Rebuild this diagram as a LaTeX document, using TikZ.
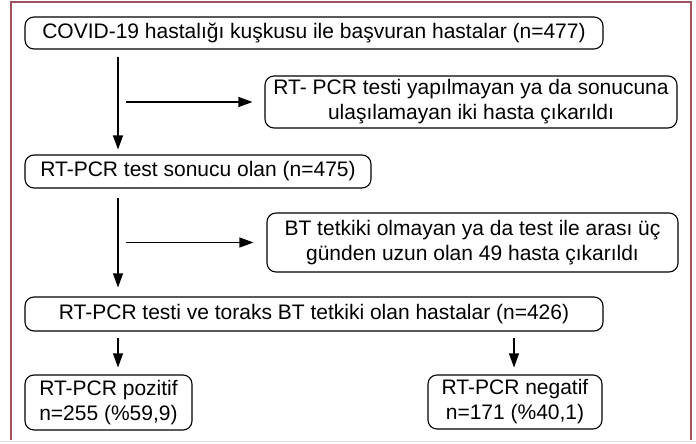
\documentclass[tikz,border=0pt]{standalone}
\usepackage{fontspec}
\setmainfont{Liberation Sans}
\usetikzlibrary{arrows.meta}
\definecolor{framered}{RGB}{160,80,90}
\tikzset{
  flowbox/.style={draw, line width=1.1pt, rounded corners=9pt, inner sep=0pt,
    font=\fontsize{21}{25}\selectfont},
  flowarrow/.style={-{Triangle[length=14pt,width=10pt]}, line width=1.1pt}
}
\begin{document}
\begin{tikzpicture}[x=1pt,y=-1pt]
        \useasboundingbox (0,0) rectangle (696,444);

        % Draw the frame
        \draw[framered, line width=1.4pt] (11,440) -- (11,2) -- (691,2) -- (691,440);
        \draw[black!12] (0,441) -- (696,441);

        % Define the boxes
        \node[flowbox, minimum width=578pt, minimum height=32pt] (suspected) at (314,33)
            {COVID-19 hastalığı kuşkusu ile başvuran hastalar (n=477)};
        \node[flowbox, align=center, minimum width=412pt, minimum height=52pt] (nopcr) at (471,102)
            {RT- PCR testi yapılmayan ya da sonucuna\\ulaşılamayan iki hasta çıkarıldı};
        \node[flowbox, minimum width=346pt, minimum height=33pt] (pcrresult) at (198,171.5)
            {RT-PCR test sonucu olan (n=475)};
        \node[flowbox, align=center, minimum width=411pt, minimum height=59pt] (noct) at (472.5,242.5)
            {BT tetkiki olmayan ya da test ile arası üç\\günden uzun olan 49 hasta çıkarıldı};
        \node[flowbox, minimum width=578pt, minimum height=34pt] (pcrct) at (314,314)
            {RT-PCR testi ve toraks BT tetkiki olan hastalar (n=426)};
        \node[flowbox, align=left, minimum width=167pt, minimum height=55pt] (positive) at (108.5,402.5)
            {RT-PCR pozitif\\n=255 (\%59,9)};
        \node[flowbox, align=center, minimum width=174pt, minimum height=54pt] (negative) at (515,402)
            {RT-PCR negatif\\n=171 (\%40,1)};

        % Arrow columns
        \coordinate (leftcol) at (118,0);
        \coordinate (rightcol) at (514,0);

        % Draw the arrows
        \draw[flowarrow] ([yshift=-7pt]suspected.south -| leftcol) -- ([yshift=5pt]pcrresult.north -| leftcol);
        \draw[flowarrow] ([xshift=8pt]leftcol |- nopcr.west) -- ([xshift=-12pt]nopcr.west);
        \draw[flowarrow] ([yshift=-9pt]pcrresult.south -| leftcol) -- ([yshift=9pt]pcrct.north -| leftcol);
        \draw[flowarrow] ([xshift=8pt]leftcol |- noct.west) -- ([xshift=-13pt]noct.west);
        \draw[flowarrow] ([yshift=-6pt]pcrct.south -| leftcol) -- ([yshift=7pt]positive.north -| leftcol);
        \draw[flowarrow] ([yshift=-6pt]pcrct.south -| rightcol) -- ([yshift=7pt]negative.north -| rightcol);

\end{tikzpicture}
\end{document}
